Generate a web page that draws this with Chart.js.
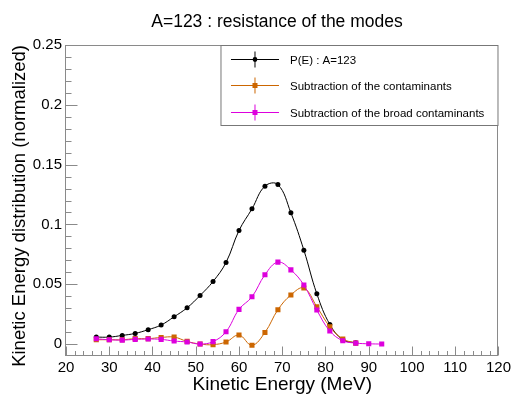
<!DOCTYPE html>
<html>
<head>
<meta charset="utf-8">
<script src="https://cdn.jsdelivr.net/npm/chart.js@4"></script>
<style>
  html, body { margin: 0; padding: 0; background: #fff; }
  #wrap { width: 514px; height: 400px; position: relative; }
</style>
</head>
<body>
<div id="wrap"><canvas id="chart"></canvas></div>
<script>
// Kinetic energy bins (MeV)
const energy = [27, 30, 33, 36, 39, 42, 45, 48, 51, 54, 57, 60, 63, 66, 69, 72, 75, 78, 81, 84, 87, 90, 93];

// P(E) : A=123
const pE = [0.0058, 0.0058, 0.0072, 0.0089, 0.0120, 0.0159, 0.0228, 0.0303, 0.0406, 0.0523, 0.0682,
            0.0949, 0.1130, 0.1320, 0.1333, 0.1097, 0.0785, 0.0420, 0.0164, 0.0036, 0.0010];
// Subtraction of the contaminants
const subContam = [0.0036, 0.0036, 0.0036, 0.0045, 0.0045, 0.0055, 0.0058, 0.0022, 0.0000, -0.0005, 0.0017,
                   0.0075, -0.0010, 0.0097, 0.0287, 0.0410, 0.0468, 0.0312, 0.0145, 0.0042, 0.0008];
// Subtraction of the broad contaminants
const subBroad = [0.0044, 0.0036, 0.0033, 0.0039, 0.0042, 0.0039, 0.0025, 0.0017, 0.0000, 0.0020, 0.0103,
                  0.0290, 0.0395, 0.0579, 0.0685, 0.0620, 0.0493, 0.0284, 0.0109, 0.0028, 0.0008, 0.0002, 0.0000];

const seriesNames = ['P(E) : A=123', 'Subtraction of the contaminants', 'Subtraction of the broad contaminants'];
const seriesColors = ['#000000', '#cc6600', '#dd00dd'];

const xTicks = [20, 30, 40, 50, 60, 70, 80, 90, 100, 110, 120];
const yTicks = [0, 0.05, 0.1, 0.15, 0.2, 0.25];

const FONT = "'Liberation Sans', Arial, Helvetica, sans-serif";

function toPoints(vals) {
    return vals.map((v, i) => ({ x: energy[i], y: v }));
}

// ROOT-style frame with inward ticks, title and legend box
const rootStyle = {
    id: 'rootStyle',
    beforeDatasetsDraw(chart) {
        const { ctx, chartArea: a, scales: { x, y } } = chart;
        ctx.save();
        ctx.strokeStyle = '#8a8a8a';
        ctx.lineWidth = 1;
        const L = Math.round(a.left) - 0.5, R = Math.round(a.right) - 0.5;
        const T = Math.round(a.top) + 0.5, B = Math.round(a.bottom) - 0.5;
        ctx.strokeRect(L, T, R - L, B - T);
        ctx.beginPath();
        for (let v = 20; v <= 120; v += 2) {
            const px = Math.round(x.getPixelForValue(v)) + 0.5;
            const len = v % 10 === 0 ? 9 : 4.5;
            ctx.moveTo(px, B);
            ctx.lineTo(px, B - len);
        }
        for (let k = 0; k <= 25; k++) {
            const py = Math.round(y.getPixelForValue(k / 100)) + 0.5;
            const len = k % 5 === 0 ? 12 : 6;
            ctx.moveTo(L, py);
            ctx.lineTo(L + len, py);
        }
        ctx.stroke();
        ctx.restore();
    },
    afterDraw(chart) {
        const { ctx, chartArea: a } = chart;
        ctx.save();
        // title
        ctx.fillStyle = '#000';
        ctx.font = '17.5px ' + FONT;
        ctx.textAlign = 'center';
        ctx.textBaseline = 'alphabetic';
        ctx.fillText('A=123 : resistance of the modes', 277, 27);

        // legend
        const lx = a.right - 277.5, ly = a.top + 0.5, lw = 277, lh = 80;
        ctx.fillStyle = '#fff';
        ctx.fillRect(lx, ly, lw, lh);
        ctx.strokeStyle = '#777';
        ctx.lineWidth = 1;
        ctx.strokeRect(lx, ly, lw, lh);
        ctx.font = '11.5px ' + FONT;
        ctx.textAlign = 'left';
        ctx.textBaseline = 'middle';
        seriesNames.forEach((name, i) => {
            const cy = Math.round(ly + 13 + i * 26.7) + 0.5;
            const c = seriesColors[i];
            ctx.strokeStyle = c;
            ctx.beginPath();
            ctx.moveTo(lx + 10, cy);
            ctx.lineTo(lx + 58, cy);
            ctx.moveTo(lx + 34, cy - 8);
            ctx.lineTo(lx + 34, cy + 8);
            ctx.stroke();
            ctx.fillStyle = c;
            if (i === 0) {
                ctx.beginPath();
                ctx.arc(lx + 34, cy, 2.4, 0, Math.PI * 2);
                ctx.fill();
            } else {
                ctx.fillRect(lx + 31.5, cy - 2.5, 5, 5);
            }
            ctx.fillStyle = '#000';
            ctx.fillText(name, lx + 69, cy + 1);
        });
        ctx.restore();
    }
};

new Chart(document.getElementById('chart'), {
    type: 'line',
    data: {
        datasets: [
            {
                label: seriesNames[0], data: toPoints(pE), order: 3,
                borderColor: seriesColors[0], backgroundColor: seriesColors[0],
                borderWidth: 1, pointStyle: 'circle', pointRadius: 2.5, pointBorderWidth: 0,
                tension: 0.4, fill: false
            },
            {
                label: seriesNames[1], data: toPoints(subContam), order: 2,
                borderColor: seriesColors[1], backgroundColor: seriesColors[1],
                borderWidth: 1, pointStyle: 'rect', pointRadius: 3.6, pointBorderWidth: 0,
                tension: 0.4, fill: false
            },
            {
                label: seriesNames[2], data: toPoints(subBroad), order: 1,
                borderColor: seriesColors[2], backgroundColor: seriesColors[2],
                borderWidth: 1, pointStyle: 'rect', pointRadius: 3.6, pointBorderWidth: 0,
                tension: 0.4, fill: false
            }
        ]
    },
    options: {
        responsive: true,
        maintainAspectRatio: false,
        animation: false,
        devicePixelRatio: 1,
        layout: { padding: { top: 45, right: 14, left: 0, bottom: 0 } },
        plugins: {
            legend: { display: false },
            title: { display: false },
            tooltip: { enabled: false }
        },
        scales: {
            x: {
                type: 'linear',
                min: 20, max: 120,
                afterFit(scale) { scale.height = 44; },
                afterBuildTicks(scale) { scale.ticks = xTicks.map(v => ({ value: v })); },
                grid: { display: false, drawTicks: false },
                border: { display: false },
                ticks: { color: '#000', font: { family: FONT, size: 15 }, padding: 3, maxRotation: 0 },
                title: {
                    display: true, text: 'Kinetic Energy (MeV)', color: '#000',
                    font: { family: FONT, size: 19 }, padding: { top: 0, bottom: 4 }
                }
            },
            y: {
                type: 'linear',
                min: -0.01, max: 0.25,
                afterFit(scale) { scale.width = 66; },
                afterBuildTicks(scale) { scale.ticks = yTicks.map(v => ({ value: v })); },
                grid: { display: false, drawTicks: false },
                border: { display: false },
                ticks: { color: '#000', font: { family: FONT, size: 15 }, padding: 4, callback: v => String(v) },
                title: {
                    display: true, text: 'Kinetic Energy distribution (normalized)', color: '#000',
                    align: 'end', font: { family: FONT, size: 18.5 }, padding: { top: 9, bottom: 0 }
                }
            }
        }
    },
    plugins: [rootStyle]
});
</script>
</body>
</html>
